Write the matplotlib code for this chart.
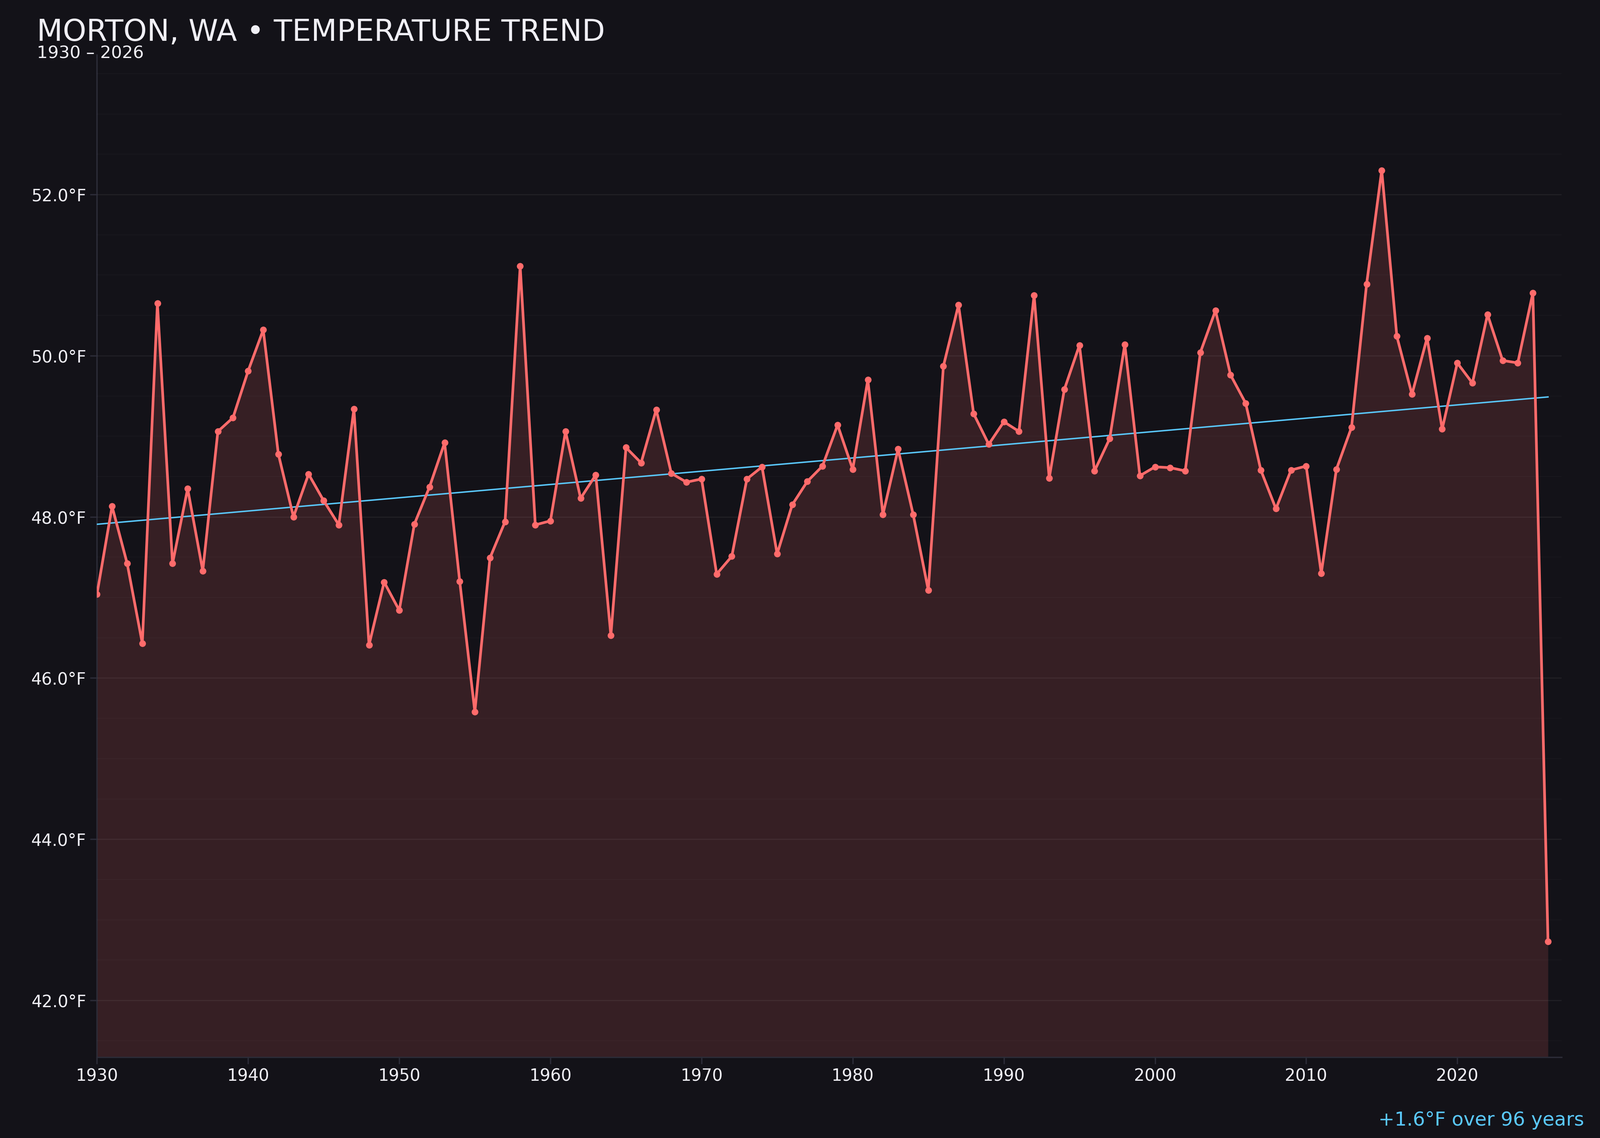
import matplotlib
matplotlib.use('Agg')
import matplotlib.pyplot as plt
import numpy as np
from matplotlib.ticker import MultipleLocator, FuncFormatter

BG = '#131218'; RED = '#ff6b6b'; BLUE = '#5ac8fa'; TXT = '#f0eff5'; SPINE = '#2c2c38'

years = np.arange(1930, 2027)
temps = [47.04, 48.13, 47.42, 46.43, 50.65, 47.42, 48.35, 47.33, 49.06, 49.23,
         49.81, 50.32, 48.78, 48.00, 48.53, 48.20, 47.90, 49.34, 46.41, 47.19,
         46.84, 47.91, 48.37, 48.92, 47.20, 45.58, 47.49, 47.94, 51.11, 47.90,
         47.95, 49.06, 48.23, 48.52, 46.53, 48.86, 48.67, 49.33, 48.54, 48.43,
         48.47, 47.29, 47.51, 48.47, 48.62, 47.54, 48.15, 48.44, 48.63, 49.14,
         48.59, 49.70, 48.03, 48.84, 48.03, 47.09, 49.87, 50.63, 49.28, 48.90,
         49.18, 49.06, 50.75, 48.48, 49.58, 50.13, 48.57, 48.97, 50.14, 48.51,
         48.62, 48.61, 48.57, 50.04, 50.56, 49.76, 49.41, 48.58, 48.10, 48.58,
         48.63, 47.30, 48.59, 49.11, 50.89, 52.30, 50.24, 49.52, 50.22, 49.09,
         49.91, 49.66, 50.51, 49.94, 49.91, 50.78, 42.73]

title = 'MORTON, WA \u2022 TEMPERATURE TREND'
subtitle = '1930 \u2013 2026'
note = '+1.6\u00b0F over 96 years'

temps = np.array(temps)
fig = plt.figure(figsize=(20, 14.22), dpi=200, facecolor=BG)
ax = fig.add_axes([0.0606, 0.071, 0.9154, 0.881])
ax.set_facecolor(BG)
ax.set_axisbelow(False)

rng = temps.max() - temps.min()
lo, hi = temps.min() - 0.15 * rng, temps.max() + 0.15 * rng
ax.set_ylim(lo, hi)
ax.set_xlim(1930, 2026.9)

ax.fill_between(years, temps, lo, color=RED, alpha=0.15, lw=0, zorder=1)
ax.plot(years, temps, color=RED, lw=2.4, marker='o', ms=5, zorder=4)

coef = np.polyfit(years, temps, 1)
ax.plot(years, np.polyval(coef, years), color=BLUE, lw=1.3, zorder=3)

ax.yaxis.set_major_locator(MultipleLocator(2))
ax.yaxis.set_minor_locator(MultipleLocator(0.5))
ax.yaxis.set_major_formatter(FuncFormatter(lambda v, p: f'{v:.1f}\u00b0F'))
ax.xaxis.set_major_locator(MultipleLocator(10))
ax.grid(axis='y', which='major', color='white', alpha=0.06, lw=1.0, zorder=2)
ax.grid(axis='y', which='minor', color='white', alpha=0.025, lw=0.8, zorder=2)
ax.tick_params(which='minor', left=False)
ax.tick_params(which='major', colors=SPINE, labelcolor=TXT, labelsize=15, length=6, width=1.2)
for s in ['top', 'right']:
    ax.spines[s].set_visible(False)
for s in ['left', 'bottom']:
    ax.spines[s].set_color(SPINE)
    ax.spines[s].set_linewidth(1.2)

fig.text(0.023, 0.964, title, color=TXT, fontsize=27, ha='left', va='baseline')
fig.text(0.023, 0.949, subtitle, color=TXT, fontsize=15.5, ha='left', va='baseline')
fig.text(0.990, 0.011, note, color=BLUE, fontsize=17.3, ha='right', va='baseline')

fig.savefig('out.png', dpi=200, facecolor=BG)
plt.close(fig)
